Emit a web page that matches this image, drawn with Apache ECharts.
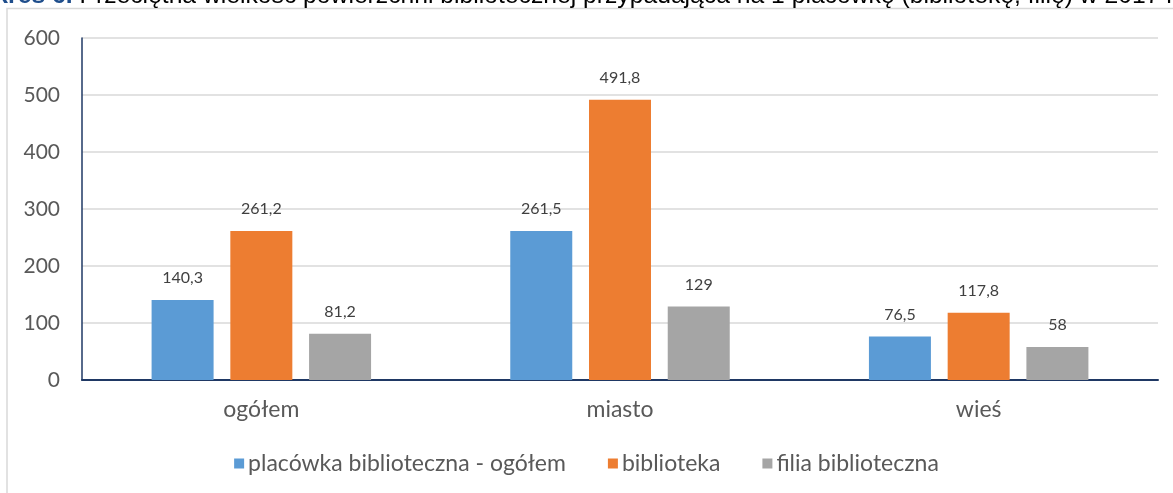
<!DOCTYPE html>
<html>
<head>
<meta charset="utf-8">
<script src="https://cdn.jsdelivr.net/npm/echarts@6/dist/echarts.min.js"></script>
<style>
  html, body { margin: 0; padding: 0; background: #fff; }
  #chart { width: 1173px; height: 493px; }
</style>
</head>
<body>
<div id="chart"></div>
<script>
const categories = ['ogółem', 'miasto', 'wieś']
const seriesNames = ['placówka biblioteczna - ogółem', 'biblioteka', 'filia biblioteczna']
const placowka = [140.3, 261.5, 76.5]
const biblioteka = [261.2, 491.8, 117.8]
const filia = [81.2, 129, 58]
const yTicks = [0, 100, 200, 300, 400, 500, 600]

const colors = ['#5B9BD5', '#ED7D31', '#A5A5A5']
const textFont = 'Lato, "Open Sans", sans-serif'
const titleFont = '"Liberation Sans", Arial, sans-serif'

const chart = echarts.init(document.getElementById('chart'))

// etykiety z przecinkiem dziesiętnym
const fmt = p => String(p.value).replace('.', ',')

const makeSeries = (name, data, i) => ({
  name,
  type: 'bar',
  data,
  barWidth: 62,
  barGap: '27%',
  itemStyle: { color: colors[i] },
  label: {
    show: true,
    position: 'top',
    distance: 14,
    formatter: fmt,
    color: '#404040',
    fontSize: 16,
    fontFamily: textFont
  }
})

chart.setOption({
  animation: false,
  grid: { left: 82, right: 15, top: 38, bottom: 113 },
  graphic: [
    {
      type: 'rect',
      shape: { x: 7, y: 8.5, width: 2000, height: 2000 },
      style: { fill: 'none', stroke: '#d9d9d9', lineWidth: 1.5 },
      z: -1
    },
    {
      // tytuł ucięty u góry jak w oryginale
      type: 'text',
      x: 1180,
      y: -4,
      style: {
        text: '{b|Wykres 6.} Przeciętna wielkość powierzchni bibliotecznej przypadająca na 1 placówkę (bibliotekę, filię) w 2017 r.',
        align: 'right',
        verticalAlign: 'middle',
        fontFamily: titleFont,
        fontSize: 24.7,
        fill: '#000',
        rich: {
          b: { fontWeight: 'bold', fill: '#1F4E8C', fontSize: 24.7, fontFamily: titleFont }
        }
      }
    }
  ],
  legend: {
    top: 447,
    left: 'center',
    itemWidth: 10,
    itemHeight: 10,
    itemGap: 42,
    icon: 'rect',
    textStyle: { color: '#595959', fontSize: 23, fontFamily: textFont, padding: [0, 0, 0, -1] },
    data: seriesNames
  },
  xAxis: {
    type: 'category',
    data: categories,
    axisLine: { lineStyle: { color: '#1F3864', width: 2 } },
    axisTick: { show: false },
    axisLabel: { color: '#595959', fontSize: 23, fontFamily: textFont, margin: 18 }
  },
  yAxis: {
    type: 'value',
    min: yTicks[0],
    max: yTicks[yTicks.length - 1],
    interval: 100,
    axisLine: { show: true, lineStyle: { color: '#1F3864', width: 1.5 } },
    axisTick: { show: false },
    splitLine: { lineStyle: { color: '#d9d9d9', width: 1.5 } },
    axisLabel: { color: '#595959', fontSize: 21, fontFamily: textFont, margin: 22 }
  },
  series: [
    makeSeries(seriesNames[0], placowka, 0),
    makeSeries(seriesNames[1], biblioteka, 1),
    makeSeries(seriesNames[2], filia, 2)
  ]
})

window.addEventListener('resize', () => chart.resize())
</script>
</body>
</html>
